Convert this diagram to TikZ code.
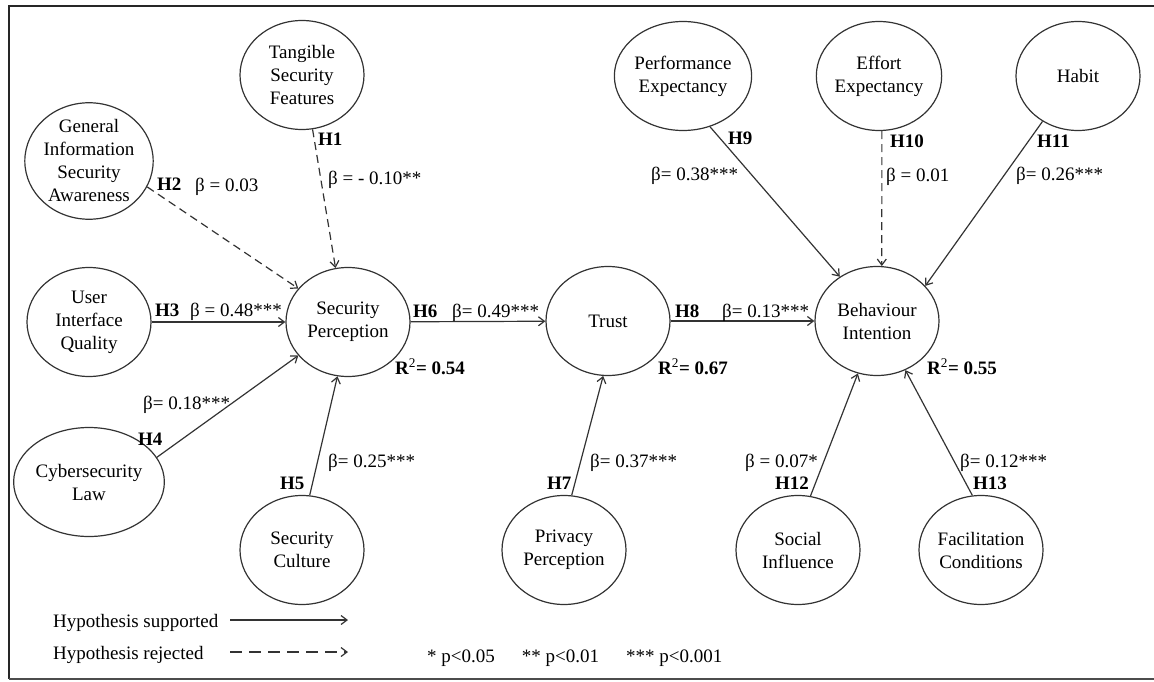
\documentclass[tikz,border=0pt]{standalone}
\usepackage{fontspec}
\setmainfont{Liberation Serif}
\usetikzlibrary{shapes.geometric, arrows.meta}

\tikzset{
  latent/.style={draw=black!80, line width=1.2pt, ellipse, minimum width=124pt,
    minimum height=109pt, inner sep=0pt, align=center,
    font=\fontsize{19}{23}\selectfont},
  hyp/.style={anchor=base west, inner sep=0pt, font=\fontsize{19}{23}\selectfont\bfseries},
  coef/.style={anchor=base west, inner sep=0pt, font=\fontsize{19}{23}\selectfont},
  supported/.style={draw=black!80, line width=1.2pt, -{Straight Barb[length=6pt,width=9pt]}},
  rejected/.style={supported, dash pattern=on 8pt off 5pt},
}

\begin{document}
\begin{tikzpicture}[x=1pt, y=-1pt]
\useasboundingbox (0,0) rectangle (1154,682);

% frame
\draw[line width=2.8pt, black!85] (1160,6) -- (9,6) -- (9,679);
\draw[line width=2.2pt, black!70] (9,679) -- (1160,679);

% constructs
\node[latent] (tsf) at (302,75) {Tangible\\Security\\Features};
\node[latent] (gisa) at (89,161) {General\\Information\\Security\\Awareness};
\node[latent] (uiq) at (89,322) {User\\Interface\\Quality};
\node[latent] (cl) at (89,482) {Cybersecurity\\Law};
\node[latent] (sp) at (348,322) {Security\\Perception};
\node[latent] (sc) at (302,550) {Security\\Culture};
\node[latent] (trust) at (608,321) {Trust};
\node[latent] (pp) at (564,550) {Privacy\\Perception};
\node[latent] (bi) at (877,321) {Behaviour\\Intention};
\node[latent] (si) at (798,550) {Social\\Influence};
\node[latent] (fc) at (981,550) {Facilitation\\Conditions};
\node[latent] (pe) at (683,76) {Performance\\Expectancy};
\node[latent] (ee) at (879,76) {Effort\\Expectancy};
\node[latent] (habit) at (1078,76) {Habit};

% paths
\draw[rejected] (tsf.-79) -- (sp.103);
\draw[rejected] (gisa.-24) -- (sp.146);
\draw[supported] (uiq) -- (sp);
\draw[supported] (cl.20) -- (sp.214);
\draw[supported] (sc.82) -- (sp.259);
\draw[supported] (sp) -- (trust);
\draw[supported] (pp.82) -- (trust.265);
\draw[supported] (trust) -- (bi);
\draw[supported] (pe.-62) -- (bi.130);
\draw[rejected] (ee.-87) -- (bi.85);
\draw[supported] (habit.232) -- (bi.36);
\draw[supported] (si.77) -- (bi.250);
\draw[supported] (fc.99) -- (bi.-60);

% hypotheses and coefficients
\node[hyp] (h1) at (318,146) {H1};
\node[coef] (b1) at (328,184) {β = - 0.10**};
\node[hyp] (h2) at (157,190) {H2};
\node[coef] (b2) at (195,191) {β = 0.03};
\node[hyp] (h3) at (155,316) {H3};
\node[coef] (b3) at (190,316) {β = 0.48***};
\node[coef] (b4) at (143,409) {β= 0.18***};
\node[hyp] (h4) at (138,445) {H4};
\node[hyp] (h5) at (280,489) {H5};
\node[coef] (b5) at (328,467) {β= 0.25***};
\node[hyp] (h6) at (413,317) {H6};
\node[coef] (b6) at (452,317) {β= 0.49***};
\node[hyp] (h7) at (547,489) {H7};
\node[coef] (b7) at (590,467) {β= 0.37***};
\node[hyp] (h8) at (675,317) {H8};
\node[coef] (b8) at (722,317) {β= 0.13***};
\node[hyp] (h9) at (728,145) {H9};
\node[coef] (b9) at (651,180) {β= 0.38***};
\node[hyp] (h10) at (890,147) {H10};
\node[coef] (b10) at (886,182) {β = 0.01};
\node[hyp] (h11) at (1037,147) {H11};
\node[coef] (b11) at (1016,180) {β= 0.26***};
\node[coef] (b12) at (745,467) {β = 0.07*};
\node[hyp] (h12) at (775,489) {H12};
\node[coef] (b13) at (960,467) {β= 0.12***};
\node[hyp] (h13) at (973,489) {H13};

% explained variance
\node[hyp] (rsp) at (395,374) {R\textsuperscript{\mdseries 2}= 0.54};
\node[hyp] (rtrust) at (658,374) {R\textsuperscript{\mdseries 2}= 0.67};
\node[hyp] (rbi) at (927,374) {R\textsuperscript{\mdseries 2}= 0.55};

% legend
\node[coef] (lsup) at (53,627) {Hypothesis supported};
\node[coef] (lrej) at (53,659) {Hypothesis rejected};
\coordinate (sups) at (230,620);
\coordinate (supe) at (348,620);
\coordinate (rejs) at (230,652);
\coordinate (reje) at (348,652);
\draw[supported] (sups) -- (supe);
\draw[rejected, dash pattern=on 12pt off 7pt] (rejs) -- (reje);
\node[coef] (pval) at (427,662) {* p<0.05\hspace{27pt}** p<0.01\hspace{27pt}*** p<0.001};
\end{tikzpicture}
\end{document}
